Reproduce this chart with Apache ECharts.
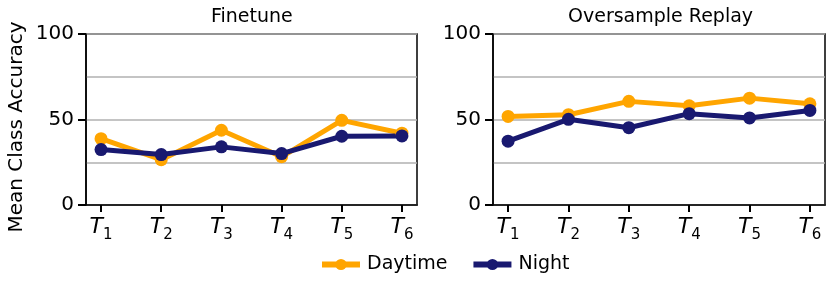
<!DOCTYPE html>
<html>
<head>
<meta charset="utf-8">
<script src="https://cdn.jsdelivr.net/npm/echarts@6/dist/echarts.min.js"></script>
<style>
  html, body { margin: 0; padding: 0; background: #fff; }
  #chart { width: 830px; height: 304px; }
</style>
</head>
<body>
<div id="chart"></div>
<script>
// tasks T1..T6
var tasks = ['1', '2', '3', '4', '5', '6'];
var panels = ['Finetune', 'Oversample Replay'];

// mean class accuracy
var finetuneDay = [38.8, 26.5, 43.7, 28.2, 49.5, 42];
var finetuneNight = [32.4, 29.5, 34, 30.1, 40.2, 40.4];
var replayDay = [51.8, 52.8, 60.6, 58, 62.5, 59.2];
var replayNight = [37.3, 50.1, 45.2, 53.4, 50.9, 55.3];

var FONT = 'DejaVu Sans';
var DAY = '#FFA500';
var NIGHT = '#191970';

var chart = echarts.init(document.getElementById('chart'), null, { renderer: 'canvas' });

var xIdx = tasks.map(function (t, i) { return i; });
function pairs(arr) {
	return arr.map(function (v, i) { return [i, v]; });
}

function xAxisFor(g) {
	return {
		type: 'value', gridIndex: g, min: -0.25, max: 5.25,
		axisLine: { show: true, onZero: false, lineStyle: { color: '#000', width: 1.5 } },
		splitLine: { show: false },
		axisTick: { show: true, customValues: xIdx, length: 7, lineStyle: { color: '#000', width: 2 } },
		axisLabel: {
			show: true, customValues: xIdx, margin: 11,
			formatter: function (v) { return '{t|T}{s|' + tasks[Math.round(v)] + '}'; },
			rich: {
				t: { fontFamily: FONT, fontStyle: 'italic', fontSize: 22, color: '#000', verticalAlign: 'bottom' },
				s: { fontFamily: FONT, fontSize: 15, color: '#000', verticalAlign: 'bottom', padding: [0, 0, -5, 0] }
			}
		}
	};
}
// ticks and labels at 0/50/100
function yAxisFor(g) {
	return {
		type: 'value', gridIndex: g, min: 0, max: 100, interval: 50,
		axisLine: { show: true, onZero: false, lineStyle: { color: '#000', width: 1.5 } },
		splitLine: { show: false },
		axisTick: { show: true, length: 8, lineStyle: { color: '#000', width: 2 } },
		axisLabel: { show: true, margin: 12, fontFamily: FONT, fontSize: 20, color: '#000' }
	};
}
// grey grid every 25
function yGridFor(g) {
	return {
		type: 'value', gridIndex: g, min: 0, max: 100, interval: 25,
		axisLine: { show: false, onZero: false },
		axisTick: { show: false },
		axisLabel: { show: false },
		splitLine: { show: true, lineStyle: { color: '#b0b0b0', width: 1.5 } }
	};
}
function lineSeries(name, data, color, g) {
	return {
		name: name, type: 'line', xAxisIndex: g, yAxisIndex: g,
		data: pairs(data),
		symbol: 'circle', symbolSize: 13,
		lineStyle: { color: color, width: 5 },
		itemStyle: { color: color },
		emphasis: { disabled: true },
		animation: false
	};
}

chart.setOption({
	animation: false,
	title: [
		{ text: panels[0], left: 206, top: 3,
		  textStyle: { fontFamily: FONT, fontSize: 19, fontWeight: 'normal', color: '#000' } },
		{ text: panels[1], left: 563, top: 3,
		  textStyle: { fontFamily: FONT, fontSize: 19, fontWeight: 'normal', color: '#000' } }
	],
	grid: [
		{ left: 86, right: 413, top: 34, bottom: 99, show: true, borderColor: '#000', borderWidth: 1.5 },
		{ left: 493, right: 5, top: 34, bottom: 99, show: true, borderColor: '#000', borderWidth: 1.5 }
	],
	xAxis: [xAxisFor(0), xAxisFor(1)],
	yAxis: [yAxisFor(0), yAxisFor(1), yGridFor(0), yGridFor(1)],
	legend: {
		left: 319, top: 255, padding: 0, itemWidth: 38, itemHeight: 14, itemGap: 23,
		data: ['Daytime', 'Night'],
		lineStyle: { width: 6 },
		textStyle: { fontFamily: FONT, fontSize: 19, color: '#000', padding: [0, 0, 0, 2] }
	},
	graphic: [{
		type: 'text', x: 7, y: 127, rotation: Math.PI / 2,
		style: { text: 'Mean Class Accuracy', font: '20px "DejaVu Sans"', fill: '#000',
		         textAlign: 'center', textVerticalAlign: 'top' }
	}],
	series: [
		lineSeries('Daytime', finetuneDay, DAY, 0),
		lineSeries('Night', finetuneNight, NIGHT, 0),
		lineSeries('Daytime', replayDay, DAY, 1),
		lineSeries('Night', replayNight, NIGHT, 1)
	]
});
</script>
</body>
</html>
